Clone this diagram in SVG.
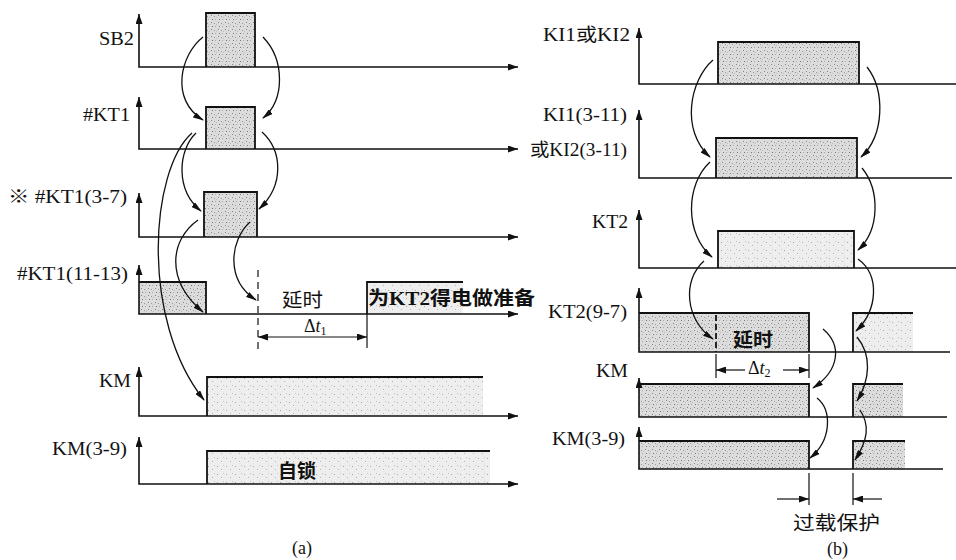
<svg xmlns="http://www.w3.org/2000/svg" width="956" height="560" viewBox="0 0 956 560">
<style>
.ax{fill:none;stroke:#111;stroke-width:1.6}
.pl{fill:none;stroke:#111;stroke-width:1.8}
.cv{fill:none;stroke:#111;stroke-width:1.3}
.dim{fill:none;stroke:#111;stroke-width:1.2}
.lb{font-family:"Liberation Serif","Noto Sans CJK SC",serif;font-size:18px;fill:#111}
.cn{font-family:"Liberation Serif","Noto Sans CJK SC",serif;font-size:19px;fill:#111}
.b{font-weight:bold}
</style>
<defs>
<pattern id="st" width="7" height="7" patternUnits="userSpaceOnUse"><rect width="7" height="7" fill="#dcdcdc"/><rect x="1" y="1" width="1" height="1" fill="#888"/><rect x="4" y="2" width="1" height="1" fill="#999"/><rect x="2" y="5" width="1" height="1" fill="#777"/><rect x="5" y="5" width="1" height="1" fill="#aaa"/><rect x="6" y="3" width="1" height="1" fill="#bbb"/></pattern>
<pattern id="lt" width="9" height="8" patternUnits="userSpaceOnUse"><rect width="9" height="8" fill="#eeeeee"/><rect x="1" y="2" width="1" height="1" fill="#a8a8a8"/><rect x="5" y="5" width="1" height="1" fill="#b5b5b5"/><rect x="7" y="1" width="1" height="1" fill="#c4c4c4"/></pattern>
<marker id="ah" markerUnits="userSpaceOnUse" markerWidth="10" markerHeight="7" refX="10" refY="3.5" orient="auto-start-reverse"><path d="M0,0 L10,3.5 L0,7 z" fill="#111"/></marker>
<marker id="ca" markerUnits="userSpaceOnUse" markerWidth="11" markerHeight="6" refX="10" refY="3" orient="auto"><path d="M0,0 L11,3 L0,6 z" fill="#111"/></marker>
</defs>
<rect width="956" height="560" fill="#fff"/>

<!-- (a) -->
<g id="a-sb2">
<rect x="206" y="13" width="49" height="54" fill="url(#st)"/>
<path class="pl" d="M206,67 V13 H255 V67"/>
<path class="ax" d="M139,14 V67 H518" marker-start="url(#ah)" marker-end="url(#ah)"/>
<text class="lb" x="99" y="45" textLength="35" lengthAdjust="spacingAndGlyphs">SB2</text>
</g>
<g id="a-kt1">
<rect x="206" y="107" width="49" height="42" fill="url(#st)"/>
<path class="pl" d="M206,149 V107 H255 V149"/>
<path class="ax" d="M139,97 V149 H518" marker-start="url(#ah)" marker-end="url(#ah)"/>
<text class="lb" x="83" y="121" textLength="47" lengthAdjust="spacingAndGlyphs">#KT1</text>
</g>
<g id="a-kt1-37">
<rect x="204" y="192" width="53" height="45" fill="url(#st)"/>
<path class="pl" d="M204,237 V192 H257 V237"/>
<path class="ax" d="M139,193 V237 H518" marker-start="url(#ah)" marker-end="url(#ah)"/>
<text class="lb" x="8" y="203" textLength="119" lengthAdjust="spacingAndGlyphs">※ #KT1(3-7)</text>
</g>
<g id="a-kt1-1113">
<rect x="139" y="282" width="67" height="32" fill="url(#st)"/>
<rect x="367" y="282" width="96" height="32" fill="url(#lt)"/>
<path class="pl" d="M139,282 H206 V314"/>
<path class="pl" d="M367,314 V282 H463"/>
<path class="ax" d="M139,265 V314 H518" marker-start="url(#ah)" marker-end="url(#ah)"/>
<path class="dim" d="M258,270 V350" stroke-dasharray="7,5"/>
<path class="dim" d="M367,314 V348"/>
<path class="dim" d="M258,337 H367" marker-start="url(#ah)" marker-end="url(#ah)"/>
<text class="lb" x="17" y="280" textLength="111" lengthAdjust="spacingAndGlyphs">#KT1(11-13)</text>
<text class="cn" x="282" y="307" textLength="41" lengthAdjust="spacingAndGlyphs">延时</text>
<text class="cn b" x="368" y="305" textLength="167" lengthAdjust="spacingAndGlyphs">为KT2得电做准备</text>
<text class="lb" x="304" y="332">Δ<tspan font-style="italic">t</tspan><tspan font-size="12" dy="3">1</tspan></text>
</g>
<g id="a-km">
<rect x="207" y="377" width="276" height="39" fill="url(#lt)"/>
<path class="pl" d="M207,416 V377 H483"/>
<path class="ax" d="M139,367 V416 H518" marker-start="url(#ah)" marker-end="url(#ah)"/>
<text class="lb" x="99" y="387" textLength="32" lengthAdjust="spacingAndGlyphs">KM</text>
</g>
<g id="a-km39">
<rect x="207" y="451" width="283" height="33" fill="url(#lt)"/>
<path class="pl" d="M207,484 V451 H490"/>
<path class="ax" d="M139,437 V484 H518" marker-start="url(#ah)" marker-end="url(#ah)"/>
<text class="lb" x="52" y="455" textLength="75" lengthAdjust="spacingAndGlyphs">KM(3-9)</text>
<text class="cn b" x="278" y="478" textLength="38" lengthAdjust="spacingAndGlyphs">自锁</text>
</g>
<text class="lb" x="292" y="554" font-size="16">(a)</text>

<!-- (b) -->
<g id="b-ki">
<rect x="718" y="42" width="141" height="42" fill="url(#st)"/>
<path class="pl" d="M718,84 V42 H859 V84"/>
<path class="ax" d="M639,28 V84 H956" marker-start="url(#ah)"/>
<text class="lb" x="543" y="41" textLength="87" lengthAdjust="spacingAndGlyphs">KI1或KI2</text>
</g>
<g id="b-ki311">
<rect x="716" y="138" width="141" height="40" fill="url(#st)"/>
<path class="pl" d="M716,178 V138 H857 V178"/>
<path class="ax" d="M639,110 V178 H952" marker-start="url(#ah)"/>
<text class="lb" x="543" y="121" textLength="84" lengthAdjust="spacingAndGlyphs">KI1(3-11)</text>
<text class="lb" x="530" y="156" textLength="97" lengthAdjust="spacingAndGlyphs">或KI2(3-11)</text>
</g>
<g id="b-kt2">
<rect x="718" y="231" width="136" height="37" fill="url(#lt)"/>
<path class="pl" d="M718,268 V231 H854 V268"/>
<path class="ax" d="M639,210 V268 H956" marker-start="url(#ah)"/>
<text class="lb" x="592" y="228" textLength="36" lengthAdjust="spacingAndGlyphs">KT2</text>
</g>
<g id="b-kt297">
<rect x="639" y="313" width="170" height="39" fill="url(#st)"/>
<rect x="853" y="313" width="60" height="39" fill="url(#lt)"/>
<path class="pl" d="M639,313 H809 V352"/>
<path class="pl" d="M853,352 V313 H913"/>
<path class="ax" d="M639,288 V352 H950" marker-start="url(#ah)"/>
<path class="pl" d="M716,315 V352" stroke-dasharray="6,3"/>
<path class="dim" d="M716,354 V378 M809,354 V378"/>
<path class="dim" d="M716,370 H745" marker-start="url(#ah)"/>
<path class="dim" d="M783,370 H809" marker-end="url(#ah)"/>
<text class="lb" x="548" y="318" textLength="79" lengthAdjust="spacingAndGlyphs">KT2(9-7)</text>
<text class="cn b" x="733" y="347" textLength="40" lengthAdjust="spacingAndGlyphs">延时</text>
<text class="lb" x="748" y="374">Δ<tspan font-style="italic">t</tspan><tspan font-size="12" dy="3">2</tspan></text>
</g>
<g id="b-km">
<rect x="639" y="384" width="170" height="33" fill="url(#st)"/>
<rect x="853" y="384" width="50" height="33" fill="url(#st)"/>
<path class="pl" d="M639,384 H809 V417"/>
<path class="pl" d="M853,417 V384 H903"/>
<path class="ax" d="M639,378 V417 H947" marker-start="url(#ah)"/>
<text class="lb" x="596" y="377" textLength="32" lengthAdjust="spacingAndGlyphs">KM</text>
</g>
<g id="b-km39">
<rect x="639" y="441" width="170" height="28" fill="url(#st)"/>
<rect x="853" y="441" width="52" height="28" fill="url(#st)"/>
<path class="pl" d="M639,441 H809 V469"/>
<path class="pl" d="M853,469 V441 H905"/>
<path class="ax" d="M639,427 V469 H943" marker-start="url(#ah)"/>
<path class="dim" d="M809,473 V505 M853,473 V505"/>
<path class="dim" d="M777,499 H809" marker-end="url(#ah)"/>
<path class="dim" d="M882,499 H853" marker-end="url(#ah)"/>
<text class="lb" x="552" y="445" textLength="73" lengthAdjust="spacingAndGlyphs">KM(3-9)</text>
<text class="cn" x="793" y="530" font-size="20" textLength="87" lengthAdjust="spacingAndGlyphs">过载保护</text>
</g>
<text class="lb" x="827" y="555" font-size="16">(b)</text>

<g id="connectors">
<path class="cv" d="M203,37 C180,55 170,100 203,120" marker-end="url(#ca)"/>
<path class="cv" d="M263,37 C285,60 285,100 263,118" marker-end="url(#ca)"/>
<path class="cv" d="M196,133 C178,150 175,190 201,211" marker-end="url(#ca)"/>
<path class="cv" d="M262,132 C282,150 285,185 259,209" marker-end="url(#ca)"/>
<path class="cv" d="M198,220 C170,240 165,280 203,312" marker-end="url(#ca)"/>
<path class="cv" d="M250,222 C230,240 225,280 256,300" marker-end="url(#ca)"/>
<path class="cv" d="M192,133 C150,170 140,320 204,400" marker-end="url(#ca)"/>
<path class="cv" d="M713,60 C690,80 680,130 710,157" marker-end="url(#ca)"/>
<path class="cv" d="M867,67 C885,90 885,135 861,157" marker-end="url(#ca)"/>
<path class="cv" d="M710,162 C685,185 685,235 712,257" marker-end="url(#ca)"/>
<path class="cv" d="M862,168 C880,190 880,230 858,250" marker-end="url(#ca)"/>
<path class="cv" d="M704,261 C682,280 685,320 713,339" marker-end="url(#ca)"/>
<path class="cv" d="M858,259 C880,275 878,310 856,331" marker-end="url(#ca)"/>
<path class="cv" d="M823,329 C842,345 840,370 813,388" marker-end="url(#ca)"/>
<path class="cv" d="M857,337 C872,355 870,380 857,401" marker-end="url(#ca)"/>
<path class="cv" d="M817,398 C832,410 832,440 810,458" marker-end="url(#ca)"/>
<path class="cv" d="M860,410 C870,425 868,440 855,460" marker-end="url(#ca)"/>
</g>
</svg>
